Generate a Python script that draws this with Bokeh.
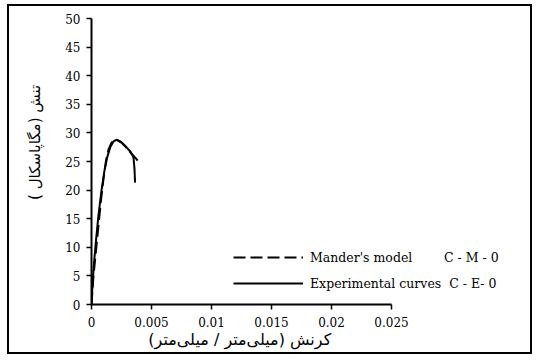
from bokeh.plotting import figure
from bokeh.models import FixedTicker, Legend, LegendItem, Range1d
from bokeh.embed import file_html
from bokeh.resources import INLINE

# ---- data ----
exp_strain = [0, 0.00008, 0.00021, 0.000375, 0.00058, 0.00083, 0.00108, 0.00133,
              0.00158, 0.00183, 0.00208, 0.00242, 0.00283, 0.00325, 0.0035,
              0.00358, 0.00363]
exp_stress = [0, 3.3, 7.3, 11.2, 15.6, 19.9, 23.4, 25.9, 27.6, 28.5, 28.8,
              28.5, 27.7, 26.7, 25.7, 23.8, 21.3]

mander_strain = [0, 0.00017, 0.000375, 0.00058, 0.00079, 0.001, 0.00121, 0.00142,
                 0.00167, 0.00192, 0.00217, 0.0025, 0.00292, 0.00333, 0.00375, 0.00408]
mander_stress = [0, 5.1, 9.4, 13.8, 18.2, 22.0, 25.2, 27.1, 28.3, 28.7, 28.7,
                 28.3, 27.4, 26.4, 25.4, 24.5]

x_ticks = [0, 0.005, 0.01, 0.015, 0.02, 0.025]
x_tick_labels = ["0", "0.005", "0.01", "0.015", "0.02", "0.025"]
y_ticks = [0, 5, 10, 15, 20, 25, 30, 35, 40, 45, 50]

legend_mander = "Mander's model" + "\u00a0" * 8 + "C - M - 0"
legend_exp = "Experimental curves\u00a0\u00a0C - E- 0"
x_title = "کرنش (میلی‌متر / میلی‌متر)" + "\u00a0" * 28
y_title = "\u00a0" * 8 + "تنش (مگاپاسکال )"

W, H = 525, 350
p = figure(width=W, height=H, output_backend="svg", toolbar_location=None,
           x_range=Range1d(0, 0.03658), y_range=Range1d(0, 50),
           min_border_left=82, min_border_right=4, min_border_top=12,
           min_border_bottom=52)
p.styles = {"border": "2px solid black", "margin-left": "7px", "margin-top": "4px"}
p.outline_line_color = None
p.grid.visible = False
p.background_fill_color = "white"
p.border_fill_color = "white"

r_m = p.line(mander_strain, mander_stress, line_color="black", line_width=2,
             line_dash="12 5")
r_e = p.line(exp_strain, exp_stress, line_color="black", line_width=2)

for ax in (p.xaxis[0], p.yaxis[0]):
    ax.axis_line_color = "black"
    ax.axis_line_width = 2
    ax.major_tick_line_color = "black"
    ax.major_tick_line_width = 1.5
    ax.major_tick_in = 0
    ax.major_tick_out = 5
    ax.minor_tick_line_color = None
    ax.major_label_text_font = "DejaVu Serif"
    ax.major_label_text_font_size = "12px"
    ax.major_label_text_color = "black"
    ax.axis_label_text_font = "DejaVu Sans"
    ax.axis_label_text_font_style = "normal"
    ax.axis_label_text_color = "black"

p.xaxis[0].bounds = (0, 0.025)
p.xaxis[0].ticker = FixedTicker(ticks=x_ticks)
p.xaxis[0].major_label_overrides = {t: l for t, l in zip(x_ticks, x_tick_labels)}
p.xaxis[0].major_label_standoff = 7
p.xaxis[0].axis_label = x_title
p.xaxis[0].axis_label_text_font_size = "16px"
p.xaxis[0].axis_label_standoff = 0

p.yaxis[0].ticker = FixedTicker(ticks=y_ticks)
p.yaxis[0].major_label_standoff = 6
p.yaxis[0].axis_label = y_title
p.yaxis[0].axis_label_text_font_size = "15px"
p.yaxis[0].axis_label_standoff = 18

legend = Legend(items=[LegendItem(label=legend_mander, renderers=[r_m]),
                       LegendItem(label=legend_exp, renderers=[r_e])],
                location=(142, 11))
legend.glyph_width = 70
legend.glyph_height = 20
legend.label_height = 20
legend.spacing = 6
legend.padding = 0
legend.margin = 0
legend.label_standoff = 7
legend.border_line_color = None
legend.background_fill_alpha = 0
legend.label_text_font = "DejaVu Serif"
legend.label_text_font_size = "12.5px"
legend.label_text_color = "black"
p.add_layout(legend)

open("out.html", "w").write(file_html(p, INLINE))
